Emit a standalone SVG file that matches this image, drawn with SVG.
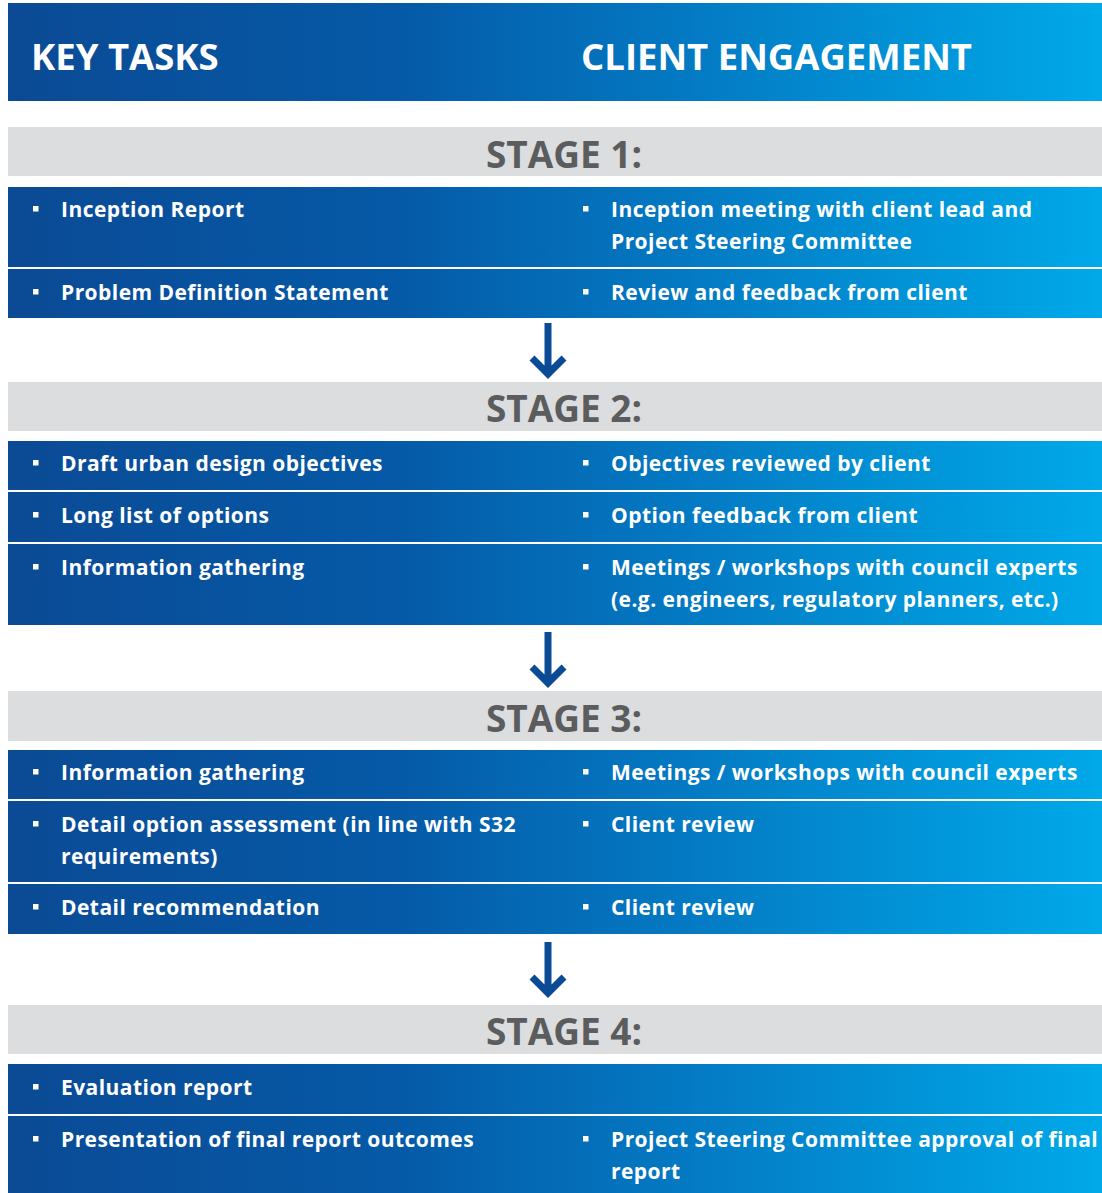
<svg xmlns="http://www.w3.org/2000/svg" width="1102" height="1193" viewBox="0 0 1102 1193">
<defs>
<linearGradient id="blue" x1="0" y1="0" x2="1" y2="0">
<stop offset="0" stop-color="#0b4a95"/>
<stop offset="0.35" stop-color="#0559a6"/>
<stop offset="0.6" stop-color="#0477c1"/>
<stop offset="1" stop-color="#00a9e8"/>
</linearGradient>
<style>
.band{fill:url(#blue);}
.gray{fill:#dcdddf;}
.hd{font-family:"Open Sans","Liberation Sans",sans-serif;font-weight:700;font-size:36.5px;fill:#ffffff;}
.st{font-family:"Open Sans","Liberation Sans",sans-serif;font-weight:700;font-size:37px;fill:#5b5c5e;text-anchor:middle;}
.tx{font-family:"Open Sans","Liberation Sans",sans-serif;font-weight:700;font-size:21px;letter-spacing:0.45px;fill:#ffffff;}
.bl{fill:#ffffff;}
.arr{fill:none;stroke:#0b4a95;stroke-width:7;}
</style>
<symbol id="b" overflow="visible"><rect class="bl" x="0" y="0" width="5.5" height="5.5"/></symbol>
</defs>
<rect x="0" y="0" width="1102" height="1193" fill="#ffffff"/>

<g id="header">
<rect class="band" x="8" y="3" width="1094" height="98"/>
<text class="hd" x="31" y="70">KEY TASKS</text>
<text class="hd" x="581" y="70">CLIENT ENGAGEMENT</text>
</g>

<g id="stage1">
<rect class="gray" x="8" y="127" width="1094" height="49"/>
<text class="st" x="564" y="168">STAGE 1:</text>
</g>
<g id="s1r1">
<rect class="band" x="8" y="187" width="1094" height="80"/>
<use href="#b" x="33" y="206"/><text class="tx" x="61" y="217">Inception Report</text>
<use href="#b" x="583" y="206"/><text class="tx" x="611" y="217">Inception meeting with client lead and</text>
<text class="tx" x="611" y="249">Project Steering Committee</text>
</g>
<g id="s1r2">
<rect class="band" x="8" y="269" width="1094" height="49"/>
<use href="#b" x="33" y="289"/><text class="tx" x="61" y="300">Problem Definition Statement</text>
<use href="#b" x="583" y="289"/><text class="tx" x="611" y="300">Review and feedback from client</text>
</g>

<g id="stage2">
<rect class="gray" x="8" y="382" width="1094" height="49"/>
<text class="st" x="564" y="422">STAGE 2:</text>
</g>
<g id="s2r1">
<rect class="band" x="8" y="441" width="1094" height="49"/>
<use href="#b" x="33" y="460"/><text class="tx" x="61" y="471">Draft urban design objectives</text>
<use href="#b" x="583" y="460"/><text class="tx" x="611" y="471">Objectives reviewed by client</text>
</g>
<g id="s2r2">
<rect class="band" x="8" y="492" width="1094" height="50"/>
<use href="#b" x="33" y="512"/><text class="tx" x="61" y="523">Long list of options</text>
<use href="#b" x="583" y="512"/><text class="tx" x="611" y="523">Option feedback from client</text>
</g>
<g id="s2r3">
<rect class="band" x="8" y="544" width="1094" height="81"/>
<use href="#b" x="33" y="564"/><text class="tx" x="61" y="575">Information gathering</text>
<use href="#b" x="583" y="564"/><text class="tx" x="611" y="575">Meetings / workshops with council experts</text>
<text class="tx" x="611" y="607">(e.g. engineers, regulatory planners, etc.)</text>
</g>

<g id="stage3">
<rect class="gray" x="8" y="691" width="1094" height="50"/>
<text class="st" x="564" y="732">STAGE 3:</text>
</g>
<g id="s3r1">
<rect class="band" x="8" y="750" width="1094" height="49"/>
<use href="#b" x="33" y="769"/><text class="tx" x="61" y="780">Information gathering</text>
<use href="#b" x="583" y="769"/><text class="tx" x="611" y="780">Meetings / workshops with council experts</text>
</g>
<g id="s3r2">
<rect class="band" x="8" y="801" width="1094" height="81"/>
<use href="#b" x="33" y="821"/><text class="tx" x="61" y="832">Detail option assessment (in line with S32</text>
<text class="tx" x="61" y="864">requirements)</text>
<use href="#b" x="583" y="821"/><text class="tx" x="611" y="832">Client review</text>
</g>
<g id="s3r3">
<rect class="band" x="8" y="884" width="1094" height="50"/>
<use href="#b" x="33" y="904"/><text class="tx" x="61" y="915">Detail recommendation</text>
<use href="#b" x="583" y="904"/><text class="tx" x="611" y="915">Client review</text>
</g>

<g id="stage4">
<rect class="gray" x="8" y="1005" width="1094" height="49"/>
<text class="st" x="564" y="1045">STAGE 4:</text>
</g>
<g id="s4r1">
<rect class="band" x="8" y="1064" width="1094" height="50"/>
<use href="#b" x="33" y="1084"/><text class="tx" x="61" y="1095">Evaluation report</text>
</g>
<g id="s4r2">
<rect class="band" x="8" y="1116" width="1094" height="77"/>
<use href="#b" x="33" y="1136"/><text class="tx" x="61" y="1147">Presentation of final report outcomes</text>
<use href="#b" x="583" y="1136"/><text class="tx" x="611" y="1147">Project Steering Committee approval of final</text>
<text class="tx" x="611" y="1179">report</text>
</g>

<g id="connectors">
<path class="arr" d="M548 323 V373 M532 358 L548 374 L564 358"/>
<path class="arr" d="M548 632 V682 M532 667 L548 683 L564 667"/>
<path class="arr" d="M548 942 V992 M532 977 L548 993 L564 977"/>
</g>
</svg>
